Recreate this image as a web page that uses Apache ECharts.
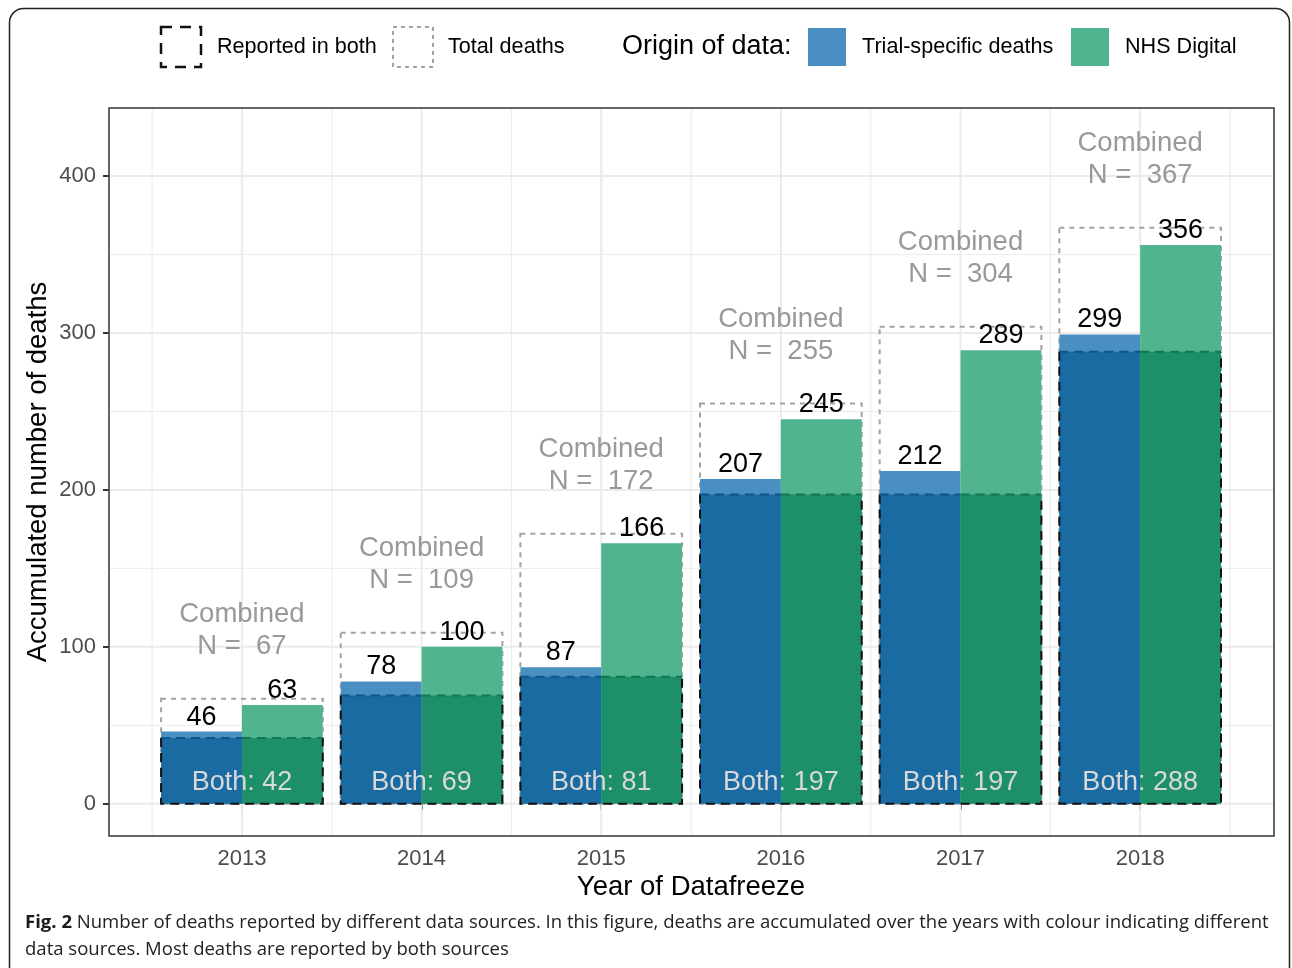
<!DOCTYPE html>
<html>
<head>
<meta charset="utf-8">
<script src="https://cdn.jsdelivr.net/npm/echarts@6/dist/echarts.min.js"></script>
<style>
  html, body { margin: 0; padding: 0; background: #ffffff; }
  #chart { width: 1292px; height: 968px; }
</style>
</head>
<body>
<div id="chart"></div>
<script>
// Accumulated deaths per datafreeze year, by origin of data
const years = [2013, 2014, 2015, 2016, 2017, 2018];
const trialDeaths = [46, 78, 87, 207, 212, 299];
const nhsDeaths = [63, 100, 166, 245, 289, 356];
const bothDeaths = [42, 69, 81, 197, 197, 288];
const combinedDeaths = [67, 109, 172, 255, 304, 367];

// Axis ticks and grid positions
const yTicks = [0, 100, 200, 300, 400];
const yMinorTicks = [50, 150, 250, 350];
const xMinorTicks = [2012.5, 2013.5, 2014.5, 2015.5, 2016.5, 2017.5, 2018.5];

const FONT = '"Liberation Sans", Arial, Helvetica, sans-serif';
const CAPTION_FONT = '"Open Sans", sans-serif';
const BAR_HALF = 0.45;

const colors = {
  trialLight: '#4a8fc2',
  trialDark: '#1b6ba3',
  trialEdge: '#0e5588',
  nhsLight: '#50b48f',
  nhsDark: '#1e9069',
  nhsEdge: '#107652',
  totalBox: '#a3a3a3',
  bothBox: '#111111',
  grid: '#ebebeb'
};

const chart = echarts.init(document.getElementById('chart'), null, { renderer: 'canvas' });

const gridData = []
  .concat(yTicks.map(v => ['y', v, 2]))
  .concat(yMinorTicks.map(v => ['y', v, 1]))
  .concat(years.map(v => ['x', v, 2]))
  .concat(xMinorTicks.map(v => ['x', v, 1]));

const barData = years.map((y, i) => [y, trialDeaths[i], nhsDeaths[i], bothDeaths[i], combinedDeaths[i]]);

function renderGridLine(params, api) {
  const cs = params.coordSys;
  const dim = gridData[params.dataIndex][0];
  const v = gridData[params.dataIndex][1];
  const w = gridData[params.dataIndex][2];
  let shape;
  if (dim === 'y') {
    const py = api.coord([2015, v])[1];
    shape = { x1: cs.x + 1, y1: py, x2: cs.x + cs.width - 1, y2: py };
  } else {
    const px = api.coord([v, 0])[0];
    shape = { x1: px, y1: cs.y + 1, x2: px, y2: cs.y + cs.height - 1 };
  }
  return { type: 'line', shape: shape, style: { stroke: colors.grid, lineWidth: w } };
}

function renderBars(params, api) {
  const year = api.value(0);
  const trial = api.value(1);
  const nhs = api.value(2);
  const both = api.value(3);
  const total = api.value(4);

  const xL = api.coord([year - BAR_HALF, 0])[0];
  const xM = api.coord([year, 0])[0];
  const xR = api.coord([year + BAR_HALF, 0])[0];
  const yAt = v => api.coord([year, v])[1];
  const y0 = yAt(0);
  const yT = yAt(trial);
  const yN = yAt(nhs);
  const yB = yAt(both);
  const yC = yAt(total);

  const rect = (x1, x2, ya, yb, fill) => ({
    type: 'rect',
    shape: { x: x1, y: ya, width: x2 - x1, height: yb - ya },
    style: { fill: fill }
  });

  return {
    type: 'group',
    children: [
      // total deaths (combined) outline
      {
        type: 'rect',
        shape: { x: xL, y: yC, width: xR - xL, height: y0 - yC },
        style: { fill: 'none', stroke: colors.totalBox, lineWidth: 2, lineDash: [5, 5] }
      },
      rect(xL, xM, yT, y0, colors.trialLight),
      rect(xM, xR, yN, y0, colors.nhsLight),
      rect(xL, xM, yB, y0, colors.trialDark),
      rect(xM, xR, yB, y0, colors.nhsDark),
      // reported-in-both outline
      {
        type: 'polyline',
        shape: { points: [[xL, yB], [xL, y0], [xR, y0], [xR, yB]] },
        style: { fill: 'none', stroke: colors.bothBox, lineWidth: 2, lineDash: [9, 6] }
      },
      {
        type: 'line',
        shape: { x1: xL, y1: yB, x2: xM, y2: yB },
        style: { stroke: colors.trialEdge, lineWidth: 2, lineDash: [9, 6] }
      },
      {
        type: 'line',
        shape: { x1: xM, y1: yB, x2: xR, y2: yB },
        style: { stroke: colors.nhsEdge, lineWidth: 2, lineDash: [9, 6] }
      },
      // value labels
      {
        type: 'text', x: (xL + xM) / 2, y: yT - 1,
        style: { text: String(trial), fill: '#000', font: '27px ' + FONT, align: 'center', verticalAlign: 'bottom' }
      },
      {
        type: 'text', x: (xM + xR) / 2, y: yN - 1,
        style: { text: String(nhs), fill: '#000', font: '27px ' + FONT, align: 'center', verticalAlign: 'bottom' }
      },
      {
        type: 'text', x: xM, y: yAt(13.5),
        style: { text: 'Both: ' + both, fill: '#d9d9d9', font: '27px ' + FONT, align: 'center', verticalAlign: 'middle' }
      },
      {
        type: 'text', x: xM, y: yC - 36,
        style: {
          text: 'Combined\nN =  ' + total, fill: '#999999', font: '27.5px ' + FONT,
          align: 'center', verticalAlign: 'bottom', lineHeight: 32
        }
      }
    ]
  };
}

const legendY = 47;
const option = {
  animation: false,
  backgroundColor: '#ffffff',
  grid: {
    left: 109, top: 108, right: 18, bottom: 132,
    show: true, backgroundColor: '#ffffff', borderColor: '#333333', borderWidth: 1.5
  },
  xAxis: {
    type: 'value',
    min: 2012.26,
    max: 2018.745,
    axisLine: { show: false },
    splitLine: { show: false },
    axisTick: { show: true, customValues: years, length: 6, lineStyle: { color: '#333333', width: 2 } },
    axisLabel: {
      customValues: years, margin: 12, color: '#4d4d4d', fontSize: 22, fontFamily: FONT,
      formatter: v => String(Math.round(v))
    }
  },
  yAxis: {
    type: 'value',
    min: -20.5,
    max: 443.3,
    axisLine: { show: false },
    splitLine: { show: false },
    axisTick: { show: true, customValues: yTicks, length: 6, lineStyle: { color: '#333333', width: 2 } },
    axisLabel: {
      customValues: yTicks, margin: 13, color: '#4d4d4d', fontSize: 22, fontFamily: FONT,
      formatter: v => String(Math.round(v))
    }
  },
  series: [
    {
      type: 'custom', name: 'gridlines', silent: true, z: 1,
      renderItem: renderGridLine, data: gridData.map(d => [0, d[1]])
    },
    {
      type: 'custom', name: 'deaths', z: 2,
      renderItem: renderBars, data: barData, clip: false
    }
  ],
  graphic: [
    // figure frame
    {
      type: 'rect', z: 0, silent: true,
      shape: { x: 9.5, y: 8.5, width: 1280, height: 1000, r: 14 },
      style: { fill: 'none', stroke: '#222222', lineWidth: 1.5 }
    },
    // legend: outline keys
    {
      type: 'rect', shape: { x: 161, y: 27, width: 40, height: 40 },
      style: { fill: 'none', stroke: '#111111', lineWidth: 2.5, lineDash: [11, 8] }
    },
    {
      type: 'text', x: 217, y: legendY,
      style: { text: 'Reported in both', fill: '#000', font: '21.6px ' + FONT, verticalAlign: 'middle' }
    },
    {
      type: 'rect', shape: { x: 393, y: 27, width: 40, height: 40 },
      style: { fill: 'none', stroke: colors.totalBox, lineWidth: 2, lineDash: [4, 4] }
    },
    {
      type: 'text', x: 448, y: legendY,
      style: { text: 'Total deaths', fill: '#000', font: '21.6px ' + FONT, verticalAlign: 'middle' }
    },
    // legend: origin of data
    {
      type: 'text', x: 622, y: legendY,
      style: { text: 'Origin of data:', fill: '#000', font: '27px ' + FONT, verticalAlign: 'middle' }
    },
    {
      type: 'rect', shape: { x: 808, y: 28, width: 38, height: 38 },
      style: { fill: colors.trialLight }
    },
    {
      type: 'text', x: 862, y: legendY,
      style: { text: 'Trial-specific deaths', fill: '#000', font: '21.6px ' + FONT, verticalAlign: 'middle' }
    },
    {
      type: 'rect', shape: { x: 1071, y: 28, width: 38, height: 38 },
      style: { fill: colors.nhsLight }
    },
    {
      type: 'text', x: 1125, y: legendY,
      style: { text: 'NHS Digital', fill: '#000', font: '21.6px ' + FONT, verticalAlign: 'middle' }
    },
    // axis titles
    {
      type: 'text', x: 691, y: 887,
      style: { text: 'Year of Datafreeze', fill: '#000', font: '27.5px ' + FONT, align: 'center', verticalAlign: 'middle' }
    },
    {
      type: 'text', x: 38, y: 472, rotation: Math.PI / 2,
      style: { text: 'Accumulated number of deaths', fill: '#000', font: '27.5px ' + FONT, align: 'center', verticalAlign: 'middle' }
    },
    // caption
    {
      type: 'text', x: 25, y: 923,
      style: {
        text: '{b|Fig. 2} Number of deaths reported by different data sources. In this figure, deaths are accumulated over the years with colour indicating different',
        fill: '#222', font: '18.55px ' + CAPTION_FONT, verticalAlign: 'middle',
        rich: { b: { fontWeight: 'bold', fontSize: 18.55, fontFamily: CAPTION_FONT, fill: '#1a1a1a' } }
      }
    },
    {
      type: 'text', x: 25, y: 950,
      style: {
        text: 'data sources. Most deaths are reported by both sources',
        fill: '#222', font: '18.55px ' + CAPTION_FONT, verticalAlign: 'middle'
      }
    }
  ]
};

chart.setOption(option);
</script>
</body>
</html>
